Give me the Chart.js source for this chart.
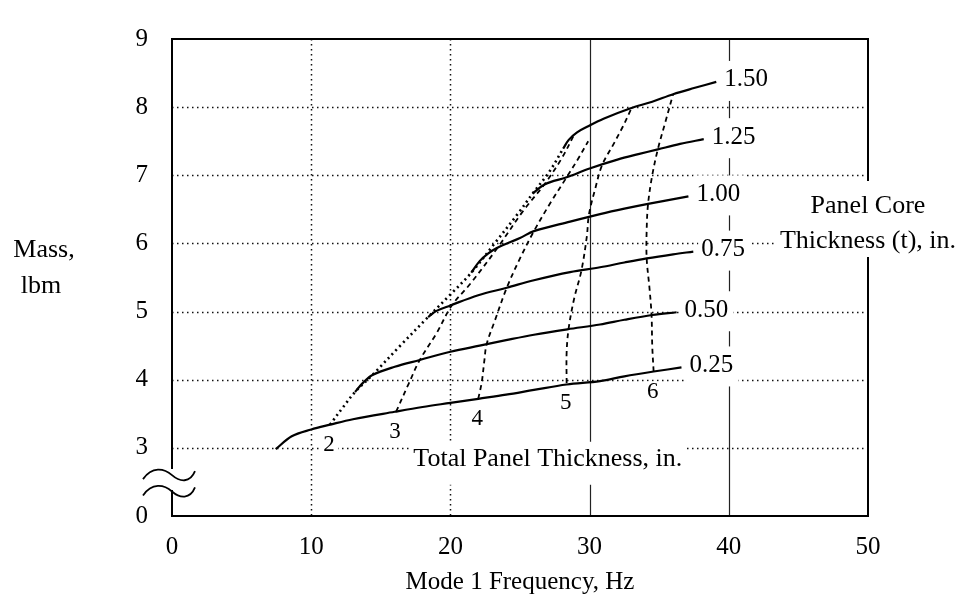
<!DOCTYPE html>
<html>
<head>
<meta charset="utf-8">
<script src="https://cdn.jsdelivr.net/npm/chart.js@4.4.0/dist/chart.umd.min.js"></script>
<style>
  html, body { margin: 0; padding: 0; background: #fff; }
  canvas { display: block; }
</style>
</head>
<body>
<canvas id="chart" width="966" height="615"></canvas>
<script>
// [frequency Hz, mass lbm] (constant core thickness)
const core025 = [[7.45, 2.98], [8.6, 3.17], [10, 3.27], [11.35, 3.34], [13, 3.42], [16, 3.53], [18, 3.6], [20, 3.66], [22, 3.72], [24, 3.78], [26, 3.85], [28.35, 3.93], [30.75, 3.98], [32.5, 4.05], [34.6, 4.12], [36.6, 4.18]];
const core050 = [[13.15, 3.82], [13.7, 3.95], [14.4, 4.07], [16, 4.19], [17.8, 4.29], [20, 4.41], [22.1, 4.5], [24, 4.58], [26, 4.66], [28.4, 4.74], [30.75, 4.81], [32.5, 4.88], [34.5, 4.95], [36.25, 4.99]];
const core075 = [[18.4, 4.92], [19, 5.01], [20, 5.09], [22, 5.24], [24.05, 5.35], [26, 5.46], [28.6, 5.58], [30.75, 5.65], [32.5, 5.72], [34.1, 5.78], [36, 5.84], [37.45, 5.88]];
const core100 = [[21.5, 5.57], [22.1, 5.74], [22.7, 5.85], [23.3, 5.93], [25, 6.08], [26, 6.18], [28.6, 6.32], [30.75, 6.43], [32.5, 6.51], [34.2, 6.58], [37.1, 6.69]];
const core125 = [[25.9, 6.73], [26.8, 6.87], [28.35, 6.97], [30, 7.1], [32, 7.23], [33.5, 7.31], [34.9, 7.38], [36.5, 7.46], [38.2, 7.53]];
const core150 = [[28.1, 7.39], [28.5, 7.52], [29.1, 7.63], [29.9, 7.72], [31, 7.83], [32.9, 7.98], [34.5, 8.08], [36, 8.19], [37.5, 8.28], [39.1, 8.37]];

// dashed curves (constant total panel thickness), bottom to top
const total2 = [[11.35, 3.34], [12.3, 3.6], [13.15, 3.82], [14.4, 4.07], [16.4, 4.5], [18.4, 4.92], [20, 5.25], [21.5, 5.57], [23.1, 5.98], [24.9, 6.45], [25.9, 6.73], [27.1, 7.05], [28.1, 7.39]];
const total3 = [[16.1, 3.53], [17, 3.94], [17.8, 4.29], [19, 4.68], [20.1, 5.09], [21.4, 5.4], [23.4, 5.94], [25.2, 6.47], [26.8, 6.88], [28, 7.25], [28.9, 7.6]];
const total4 = [[22, 3.72], [22.25, 3.96], [22.45, 4.3], [22.6, 4.52], [23.2, 4.87], [24.05, 5.35], [25, 5.78], [26, 6.18], [27.2, 6.6], [28.35, 6.97], [29.2, 7.25], [29.9, 7.5]];
const total5 = [[28.35, 3.95], [28.35, 4.4], [28.5, 4.76], [28.9, 5.2], [29.4, 5.59], [29.8, 6.1], [29.95, 6.42], [30.4, 6.8], [30.9, 7.15], [31.7, 7.45], [32.4, 7.72], [33, 7.98]];
const total6 = [[34.6, 4.12], [34.5, 4.5], [34.45, 4.95], [34.3, 5.35], [34.1, 5.78], [34.1, 6.2], [34.2, 6.58], [34.5, 7], [34.9, 7.38], [35.4, 7.75], [36, 8.19]];

const coreCurves = [core025, core050, core075, core100, core125, core150];
const coreLabels = ['0.25', '0.50', '0.75', '1.00', '1.25', '1.50'];
const totalCurves = [total2, total3, total4, total5, total6];
const totalLabels = ['2', '3', '4', '5', '6'];

const xGridDotted = [10, 20];
const xGridSolid = [30, 40];
const yGrid = [3, 4, 5, 6, 7, 8];
const yBreakValue = 2; // axis is broken: this position is labelled 0

const serif = '"Liberation Serif", "DejaVu Serif", serif';

const toXY = pts => pts.map(p => ({ x: p[0], y: p[1] }));

const datasets = [];
coreCurves.forEach((c, i) => {
    datasets.push({
        label: 't = ' + coreLabels[i],
        data: toXY(c),
        borderColor: '#000',
        borderWidth: 2.2,
        pointRadius: 0,
        tension: 0.35,
        fill: false
    });
});
totalCurves.forEach((c, i) => {
    datasets.push({
        label: 'total ' + totalLabels[i],
        data: toXY(c),
        borderColor: '#000',
        borderWidth: i === 0 ? 2.6 : 1.8,
        borderDash: i === 0 ? [2, 3.5] : [5, 4],
        pointRadius: 0,
        tension: 0.35,
        fill: false
    });
});

const frameAndLabels = {
    id: 'frameAndLabels',
    beforeDatasetsDraw(chart) {
        const { ctx, chartArea: { left, right, top, bottom }, scales: { x, y } } = chart;
        ctx.save();

        // dotted horizontal grid
        ctx.strokeStyle = '#111';
        ctx.lineWidth = 1.5;
        ctx.setLineDash([1.5, 3.5]);
        yGrid.forEach(v => {
            const py = Math.round(y.getPixelForValue(v)) + 0.5;
            ctx.beginPath();
            ctx.moveTo(left, py);
            ctx.lineTo(right, py);
            ctx.stroke();
        });
        xGridDotted.forEach(v => {
            const px = Math.round(x.getPixelForValue(v)) + 0.5;
            ctx.beginPath();
            ctx.moveTo(px, top);
            ctx.lineTo(px, bottom);
            ctx.stroke();
        });
        ctx.setLineDash([]);
        ctx.lineWidth = 1.2;
        ctx.strokeStyle = '#222';
        xGridSolid.forEach(v => {
            const px = Math.round(x.getPixelForValue(v)) + 0.5;
            ctx.beginPath();
            ctx.moveTo(px, top);
            ctx.lineTo(px, bottom);
            ctx.stroke();
        });

        // frame, with a gap in the left axis for the break
        ctx.strokeStyle = '#000';
        ctx.lineWidth = 2;
        ctx.beginPath();
        ctx.moveTo(left, y.getPixelForValue(2.69));
        ctx.lineTo(left, top);
        ctx.lineTo(right, top);
        ctx.lineTo(right, bottom);
        ctx.lineTo(left, bottom);
        ctx.lineTo(left, y.getPixelForValue(2.38));
        ctx.stroke();

        // break symbol: two tildes across the left axis
        ctx.lineWidth = 1.8;
        [y.getPixelForValue(2.6), y.getPixelForValue(2.36)].forEach(by => {
            ctx.beginPath();
            ctx.moveTo(left - 29, by + 4);
            ctx.bezierCurveTo(left - 20, by - 9, left - 8, by - 7, left, by);
            ctx.bezierCurveTo(left + 8, by + 7, left + 18, by + 8, left + 23, by - 4);
            ctx.stroke();
        });

        ctx.fillStyle = '#000';
        ctx.textBaseline = 'middle';
        ctx.textAlign = 'center';

        // annotation texts (white boxes hide the grid behind them)
        ctx.font = '26px ' + serif;
        const t1 = 'Total Panel Thickness, in.';
        const t1x = x.getPixelForValue(27);
        const t1y = y.getPixelForValue(2.84);
        const t1w = ctx.measureText(t1).width;
        ctx.fillStyle = '#fff';
        ctx.fillRect(t1x - t1w / 2 - 4, t1y - 17, t1w + 8, 43);
        ctx.fillStyle = '#000';
        ctx.fillText(t1, t1x, t1y);

        const rx = right;
        const w2 = ctx.measureText('Thickness (t), in.').width;
        ctx.fillStyle = '#fff';
        ctx.fillRect(rx - w2 / 2 - 4, 181, w2 + 8, 76);
        ctx.fillStyle = '#000';
        ctx.fillText('Panel Core', rx, 206);
        ctx.fillText('Thickness (t), in.', rx, 241);

        ctx.fillText('Mass,', 44, 250);
        ctx.fillText('lbm', 41, 286);

        // core thickness labels at the right end of each solid curve
        ctx.font = '25px ' + serif;
        ctx.textAlign = 'left';
        coreCurves.forEach((c, i) => {
            const last = c[c.length - 1];
            const px = x.getPixelForValue(last[0]) + 8;
            const py = y.getPixelForValue(last[1]) - 2;
            const w = ctx.measureText(coreLabels[i]).width;
            ctx.fillStyle = '#fff';
            ctx.fillRect(px - 3, py - 19, w + 8, 40);
            ctx.fillStyle = '#000';
            ctx.fillText(coreLabels[i], px, py);
        });

        // total thickness labels under the lower end of each dashed curve
        ctx.font = '23px ' + serif;
        ctx.textAlign = 'center';
        totalCurves.forEach((c, i) => {
            const first = c[0];
            const px = x.getPixelForValue(first[0]) - 1;
            const py = y.getPixelForValue(first[1]) + 20;
            ctx.fillStyle = '#fff';
            ctx.fillRect(px - 9, py - 10, 18, 20);
            ctx.fillStyle = '#000';
            ctx.fillText(totalLabels[i], px, py);
        });

        ctx.restore();
    }
};

new Chart(document.getElementById('chart'), {
    type: 'line',
    data: { datasets },
    options: {
        responsive: false,
        animation: false,
        devicePixelRatio: 1,
        layout: { padding: { top: 23, right: 98, bottom: 0, left: 0 } },
        plugins: {
            legend: { display: false },
            tooltip: { enabled: false }
        },
        scales: {
            x: {
                type: 'linear',
                min: 0,
                max: 50,
                grid: { display: false, drawTicks: false },
                border: { display: false },
                ticks: {
                    stepSize: 10,
                    padding: 16,
                    color: '#000',
                    font: { family: serif, size: 25 }
                },
                title: {
                    display: true,
                    text: 'Mode 1 Frequency, Hz',
                    color: '#000',
                    font: { family: serif, size: 25 },
                    padding: { top: 18, bottom: 18 }
                },
                afterFit: scale => { scale.height = 99; }
            },
            y: {
                type: 'linear',
                min: yBreakValue,
                max: 9,
                grid: { display: false, drawTicks: false },
                border: { display: false },
                ticks: {
                    stepSize: 1,
                    padding: 24,
                    color: '#000',
                    font: { family: serif, size: 25 },
                    callback: v => (v === yBreakValue ? '0' : String(v))
                },
                afterFit: scale => { scale.width = 172; }
            }
        }
    },
    plugins: [frameAndLabels]
});
</script>
</body>
</html>
